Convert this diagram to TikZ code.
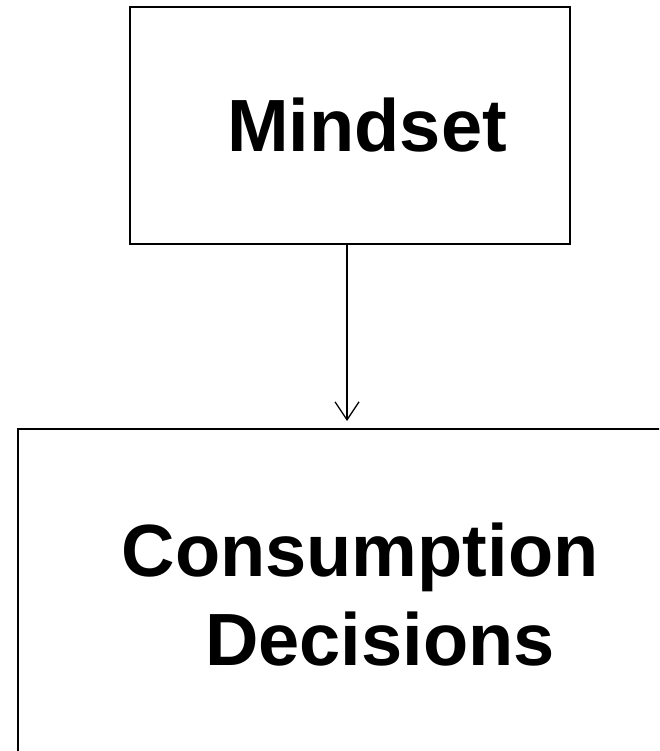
\documentclass[tikz,border=0pt]{standalone}
\usepackage{fontspec}
\setmainfont{Liberation Sans}
\usetikzlibrary{arrows.meta}
\tikzset{
  boxstyle/.style={draw=black, line width=2pt, rectangle, inner sep=0pt},
  labelstyle/.style={font=\fontsize{74}{80}\selectfont\bfseries, inner sep=0pt, anchor=base},
  linkstyle/.style={draw=black, line width=1.3pt, -{Straight Barb[length=18pt,width=24pt,line width=1.3pt]}}
}
\begin{document}
\begin{tikzpicture}[x=1pt,y=-1pt]
\useasboundingbox (0,0) rectangle (659,751);
\clip (0,0) rectangle (659,751);
\node[boxstyle, minimum width=440pt, minimum height=237pt] (mindset) at (350,125.5) {};
\node[boxstyle, minimum width=650pt, minimum height=340pt] (decisions) at (343,599) {};
\node[labelstyle] (t1) at (367,152) {Mindset};
\node[labelstyle] (t2) at (360,576) {Consumption};
\node[labelstyle] (t3) at (380,665) {Decisions};
\draw[linkstyle, shorten >=7pt] ([xshift=-3pt]mindset.south) -- ([xshift=-3pt]mindset.south |- decisions.north);
\end{tikzpicture}
\end{document}
